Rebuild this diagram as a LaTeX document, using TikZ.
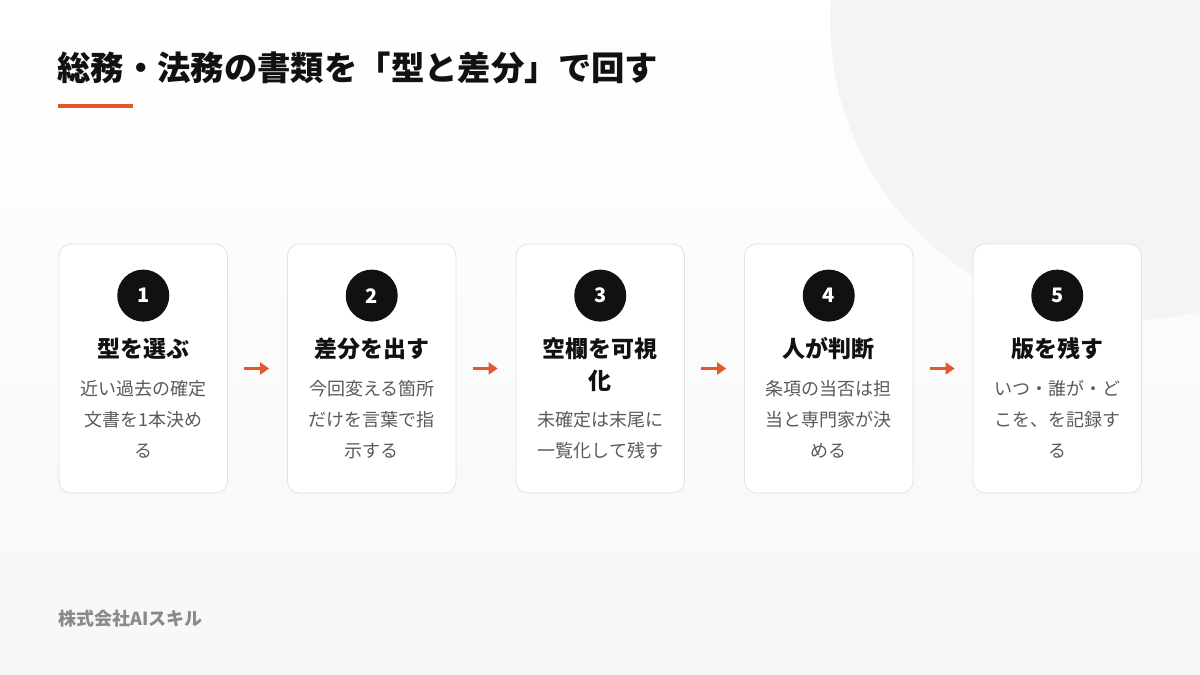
\documentclass[tikz,border=0pt]{standalone}
\usepackage{fontspec}
\setmainfont{Noto Sans CJK JP}
\newfontfamily\heavyfont{Noto Sans CJK JP Black}
\usetikzlibrary{positioning,calc,arrows.meta}
\definecolor{accent}{HTML}{E4572E}
\definecolor{ink}{HTML}{111111}
\definecolor{bodygray}{HTML}{5A5A5A}
\definecolor{footgray}{HTML}{8A8A8A}
\definecolor{cardline}{HTML}{E2E2E2}
\definecolor{bgbottom}{HTML}{F7F7F7}
\definecolor{blob}{HTML}{F4F4F4}

\begin{document}
\begin{tikzpicture}[
    x=1pt, y=-1pt,
    node distance=59.2pt,
    card/.style={
      rectangle, draw=cardline, line width=0.8pt, fill=white,
      rounded corners=12pt, minimum width=168.5pt, minimum height=249pt
    },
    badge/.style={
      circle, fill=ink, minimum size=52pt, inner sep=0pt,
      text=white, font=\heavyfont\fontsize{20}{20}\selectfont
    },
    steptitle/.style={
      anchor=base, text width=160pt, align=center, inner sep=0pt,
      text=ink, font=\heavyfont\fontsize{23}{32}\selectfont
    },
    stepdesc/.style={
      anchor=base, text width=160pt, align=center, inner sep=0pt,
      text=bodygray, font=\fontsize{18}{31}\selectfont
    },
    arr/.style={-{Triangle[length=9pt,width=12pt]}, line width=3pt, draw=accent,
      shorten >=18pt, shorten <=16.5pt}
  ]

  % Canvas and background
  \useasboundingbox (0,0) rectangle (1200,675);
  \shade[top color=white, bottom color=bgbottom] (0,0) rectangle (1200,675);
  \begin{scope}
    \clip (0,0) rectangle (1200,675);
    \fill[blob] (1130,20) circle[radius=300];
  \end{scope}

  % Heading
  \node[anchor=base west, inner sep=0pt, text=ink,
    font=\heavyfont\fontsize{33.4}{34}\selectfont] (heading) at (57,80.5)
    {総務・法務の書類を「型と差分」で回す};
  \coordinate (barstart) at (58,106);
  \fill[accent] (barstart) ++(0,-2) rectangle ++(75,4);

  % Cards
  \node[card] (c1) at (143.25,368.5) {};
  \node[card, right=of c1] (c2) {};
  \node[card, right=of c2] (c3) {};
  \node[card, right=of c3] (c4) {};
  \node[card, right=of c4] (c5) {};

  % Step numbers
  \node[badge] (b1) at ($(c1.north)+(0,52)$) {1};
  \node[badge] (b2) at ($(c2.north)+(0,52)$) {2};
  \node[badge] (b3) at ($(c3.north)+(0,52)$) {3};
  \node[badge] (b4) at ($(c4.north)+(0,52)$) {4};
  \node[badge] (b5) at ($(c5.north)+(0,52)$) {5};

  % Step titles
  \node[steptitle] (t1) at ($(c1.north)+(0,113.5)$) {型を選ぶ};
  \node[steptitle] (t2) at ($(c2.north)+(0,113.5)$) {差分を出す};
  \node[steptitle] (t3) at ($(c3.north)+(0,113.5)$) {空欄を可視\\化};
  \node[steptitle] (t4) at ($(c4.north)+(0,113.5)$) {人が判断};
  \node[steptitle] (t5) at ($(c5.north)+(0,113.5)$) {版を残す};

  % Step descriptions
  \node[stepdesc] (d1) at ($(c1.north)+(0,151.8)$) {近い過去の確定\\文書を1本決め\\る};
  \node[stepdesc] (d2) at ($(c2.north)+(0,151.8)$) {今回変える箇所\\だけを言葉で指\\示する};
  \node[stepdesc] (d3) at ($(c3.north)+(0,182.8)$) {未確定は末尾に\\一覧化して残す};
  \node[stepdesc] (d4) at ($(c4.north)+(0,151.8)$) {条項の当否は担\\当と専門家が決\\める};
  \node[stepdesc] (d5) at ($(c5.north)+(0,151.8)$) {いつ・誰が・ど\\こを、を記録す\\る};

  % Flow arrows
  \draw[arr] (c1) -- (c2);
  \draw[arr] (c2) -- (c3);
  \draw[arr] (c3) -- (c4);
  \draw[arr] (c4) -- (c5);

  % Footer
  \node[anchor=base west, inner sep=0pt, text=footgray,
    font=\bfseries\fontsize{18}{18}\selectfont] (footer) at (58,625.5)
    {株式会社AIスキル};

\end{tikzpicture}
\end{document}
